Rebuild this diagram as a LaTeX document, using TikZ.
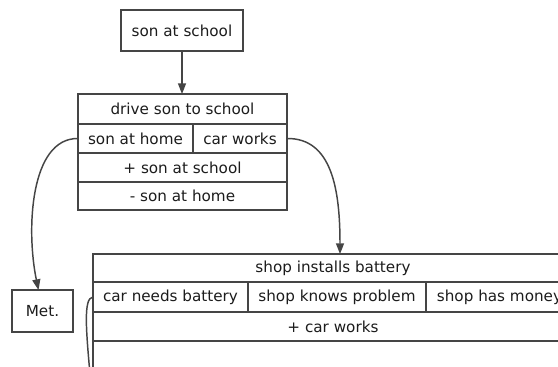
\documentclass[tikz,border=0pt]{standalone}
\usepackage{fontspec}
\setmainfont{DejaVu Sans}
\usetikzlibrary{arrows.meta,calc}
\definecolor{linegray}{HTML}{454545}
\definecolor{textgray}{HTML}{1C1C1C}
\begin{document}
\begin{tikzpicture}[x=0.75pt,y=-0.75pt,
  cell/.style 2 args={draw=linegray, line width=1.2pt, inner sep=0pt, outer sep=0pt,
    text=textgray, font=\fontsize{11.4}{13}\selectfont, anchor=north west,
    minimum width=#1*0.75pt, minimum height=#2*0.75pt},
  conn/.style={draw=linegray, line width=1.1pt, -{Triangle[length=8pt,width=6pt]}},
  loose/.style={draw=linegray, line width=1.1pt}]
\useasboundingbox (0,0) rectangle (558,367);
\clip (0,0) rectangle (558,367);
\fill[white] (0,0) rectangle (558,367);
% top goal
\node[cell={122}{41}] (goal) at (121,10) {son at school};
% drive son to school record
\node[cell={209}{30}] (drive) at (78,94) {drive son to school};
\node[cell={115}{29}] (home) at (78,124) {son at home};
\node[cell={94}{29}] (works) at (193,124) {car works};
\node[cell={209}{29}] (plusschool) at (78,153) {+ son at school};
\node[cell={209}{28}] (minushome) at (78,182) {- son at home};
% Met.
\node[cell={61}{42}] (met) at (12,290) {Met.};
% shop installs battery record
\node[cell={480}{28}] (shop) at (93,254) {shop installs battery};
\node[cell={155}{30}] (battery) at (93,282) {car needs battery};
\node[cell={178}{30}] (knows) at (248,282) {shop knows problem};
\node[cell={147}{30}] (money) at (426,282) {shop has money};
\node[cell={480}{29}] (plusworks) at (93,312) {+ car works};
\node[cell={480}{32}] (nextrow) at (93,341) {};
% connectors
\draw[conn] (goal.south) -- (drive.north -| goal.south);
\draw[conn] (home.west) .. controls (30,138) and (26,230) .. ($(met.north)+(-4,0)$);
\draw[conn] (works.east) .. controls (332,138) and (340,190) .. ($(shop.north)+(7,0)$);
\coordinate (offbelow) at (91,385);
\draw[loose] (battery.west) .. controls (83,298) and (86,330) .. (offbelow);
\end{tikzpicture}
\end{document}
